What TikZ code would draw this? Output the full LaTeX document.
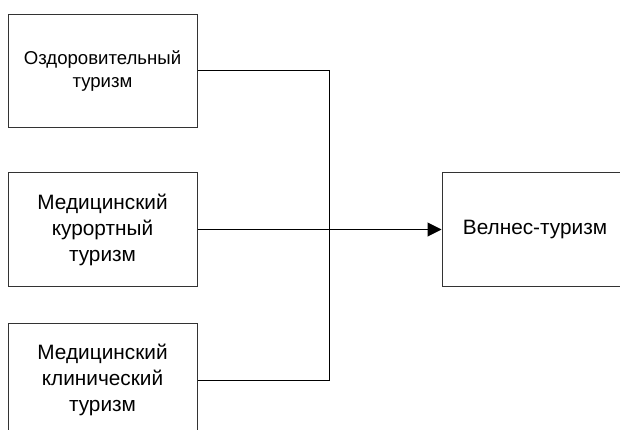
\documentclass[tikz,border=0pt]{standalone}
\usepackage{fontspec}
\setmainfont{Liberation Sans}
\usetikzlibrary{arrows.meta}
\begin{document}
\begin{tikzpicture}[x=1pt,y=-1pt,
  box/.style={draw=black!80, line width=1pt, minimum width=189pt, minimum height=113pt, align=center, inner sep=0pt, font=\fontsize{20.8}{26}\selectfont},
  smallbox/.style={box, font=\fontsize{18.6}{23}\selectfont},
  conn/.style={line width=1pt, black}]
\path[use as bounding box, clip] (0,0) rectangle (620,430);
\fill[white] (0,0) rectangle (620,430);
\node[smallbox] (top) at (102.5,71) {Оздоровительный\\туризм};
\node[box] (mid) at (102.5,229.5) {Медицинский\\курортный\\туризм};
\node[box] (bot) at (102.5,380) {Медицинский\\клинический\\туризм};
\node[box, minimum width=186pt] (well) at (535,229.5) {Велнес-туризм};
\coordinate (jt) at (329,71);
\coordinate (jb) at (329,380);
\draw[conn] (top.east) -- (jt) -- (jb) -- (bot.east);
\draw[conn, -{Triangle[length=14pt, width=14pt]}] (mid.east) -- (well.west);
\end{tikzpicture}
\end{document}
